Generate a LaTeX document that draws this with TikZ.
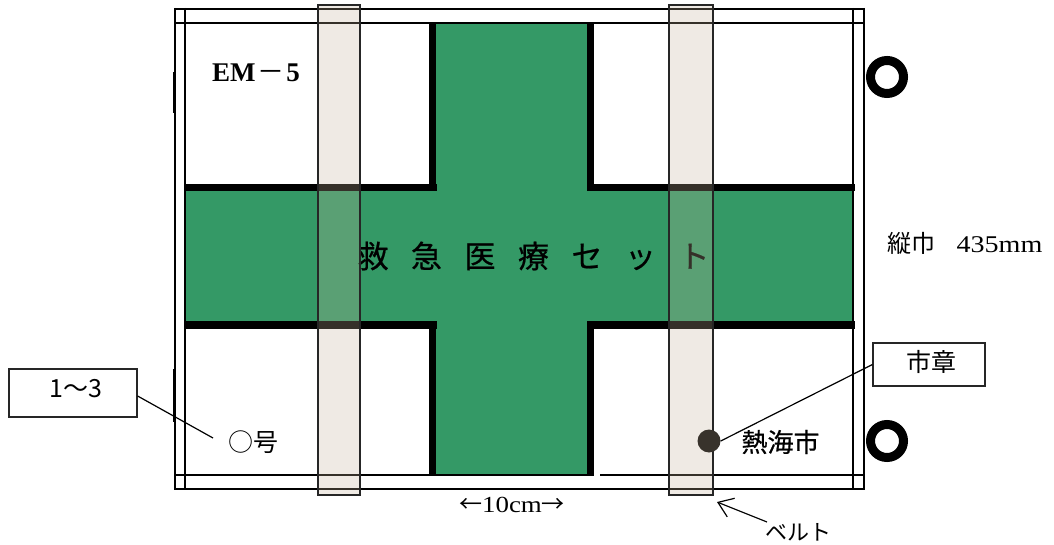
\documentclass[tikz,border=0pt]{standalone}
\usepackage{fontspec}
\usetikzlibrary{arrows.meta}
\setmainfont{Liberation Serif}
\newfontfamily\cjk{Noto Sans CJK JP}
\newfontfamily\cjkmed[FakeBold=0.6]{Noto Sans CJK JP}
\newfontfamily\wideserif[FakeStretch=1.17]{Liberation Serif}
\definecolor{crossgreen}{HTML}{349966}
\definecolor{beltc}{RGB}{196,179,154}
\definecolor{dotc}{HTML}{38332C}
\tikzset{
  frameline/.style={draw=black,line width=2pt},
  thickbar/.style={fill=black,draw=none},
  beltbar/.style={fill=beltc,fill opacity=.27,draw=black!85,line width=1.2pt},
  grommet/.style={circle,draw=black,line width=9pt,fill=white,minimum size=33pt,inner sep=0pt},
  callout/.style={draw=black!85,line width=1.2pt,fill=white,inner sep=0pt},
  label/.style={inner sep=0pt,outer sep=0pt,anchor=center},
  leader/.style={draw=black,line width=1.2pt}
}
\begin{document}
\begin{tikzpicture}[x=1pt,y=-1pt]
\useasboundingbox (0,0) rectangle (1054,545);
% green cross
\fill[crossgreen] (185,190) rectangle (853,322);
\fill[crossgreen] (436,23) rectangle (587,475);
% black borders of the cross
\fill[thickbar] (429,23) rectangle (436,191);
\fill[thickbar] (184,184) rectangle (437,191.5);
\fill[thickbar] (587,23) rectangle (594,191);
\fill[thickbar] (587,184) rectangle (855,191.5);
\fill[thickbar] (184,321) rectangle (437,328.5);
\fill[thickbar] (429,321) rectangle (436,476);
\fill[thickbar] (587,321) rectangle (855,328.5);
\fill[thickbar] (587,321) rectangle (594,476);
% frame
\draw[frameline] (175,9) -- (865,9);
\draw[frameline] (175,23.5) -- (865,23.5);
\draw[frameline] (175,475) -- (594,475);
\draw[frameline] (600,475) -- (865,475);
\draw[frameline] (175,488.5) -- (865,488.5);
\draw[frameline] (175,8) -- (175,490);
\draw[frameline] (185,8) -- (185,490);
\draw[frameline] (853,8) -- (853,490);
\draw[frameline] (864,8) -- (864,490);
\fill[thickbar] (172.5,72) rectangle (175,113);
\fill[thickbar] (172.5,369) rectangle (175,422);
% grommets
\node[grommet] (g1) at (887,77) {};
\node[grommet] (g2) at (887,441) {};
% texts
\node[label] (title) at (533.5,256) {\fontsize{31}{31}\selectfont\cjkmed 救\hspace{22.5pt}急\hspace{22.5pt}医\hspace{22.5pt}療\hspace{22.5pt}セ\hspace{22.5pt}ッ\hspace{22.5pt}ト};
\node[label] (em) at (256,73) {\fontsize{27}{27}\selectfont\bfseries EM\hspace{2pt}{\cjk\mdseries －}\hspace{2pt}5};
\node[label] (gou) at (253,442) {\fontsize{25}{25}\selectfont\cjk ○号};
\node[label] (city) at (780.5,442) {\fontsize{26}{26}\selectfont\cjkmed 熱海市};
\node[label] (width) at (965,243) {\fontsize{24}{24}\selectfont{\cjk 縦巾}\hspace{21pt}{\wideserif 435mm}};
\node[label] (ten) at (512,505) {\fontsize{23}{23}\selectfont{\cjk ←}{\wideserif 10cm}{\cjk →}};
\node[label] (beltlabel) at (798,532) {\fontsize{22}{22}\selectfont\cjk ベルト};
% belts
\path[beltbar] (318,5) rectangle (360,495);
\path[beltbar] (669,5) rectangle (713,495);
% city emblem
\node[circle,fill=dotc,minimum size=23pt,inner sep=0pt] (emblem) at (709,441) {};
% callouts
\node[callout,minimum width=128pt,minimum height=48pt] (boxa) at (73,393) {};
\node[label] at (75.5,389) (boxatext) {\fontsize{25}{25}\selectfont\cjk 1〜3};
\node[callout,minimum width=112pt,minimum height=43pt] (boxb) at (929,364.5) {};
\node[label] at (931.5,362) (boxbtext) {\fontsize{25}{25}\selectfont\cjk 市章};
\coordinate (gouend) at (213,438);
\coordinate (arrowtip) at (717,502);
\coordinate (arrowtail) at (767,522);
\draw[leader] ([yshift=-3pt]boxa.east) -- (gouend);
\draw[leader] (emblem.east) -- (boxb.west);
\draw[leader,-{Straight Barb[length=14pt,width=20pt]}] (arrowtail) -- (arrowtip);
\end{tikzpicture}
\end{document}
